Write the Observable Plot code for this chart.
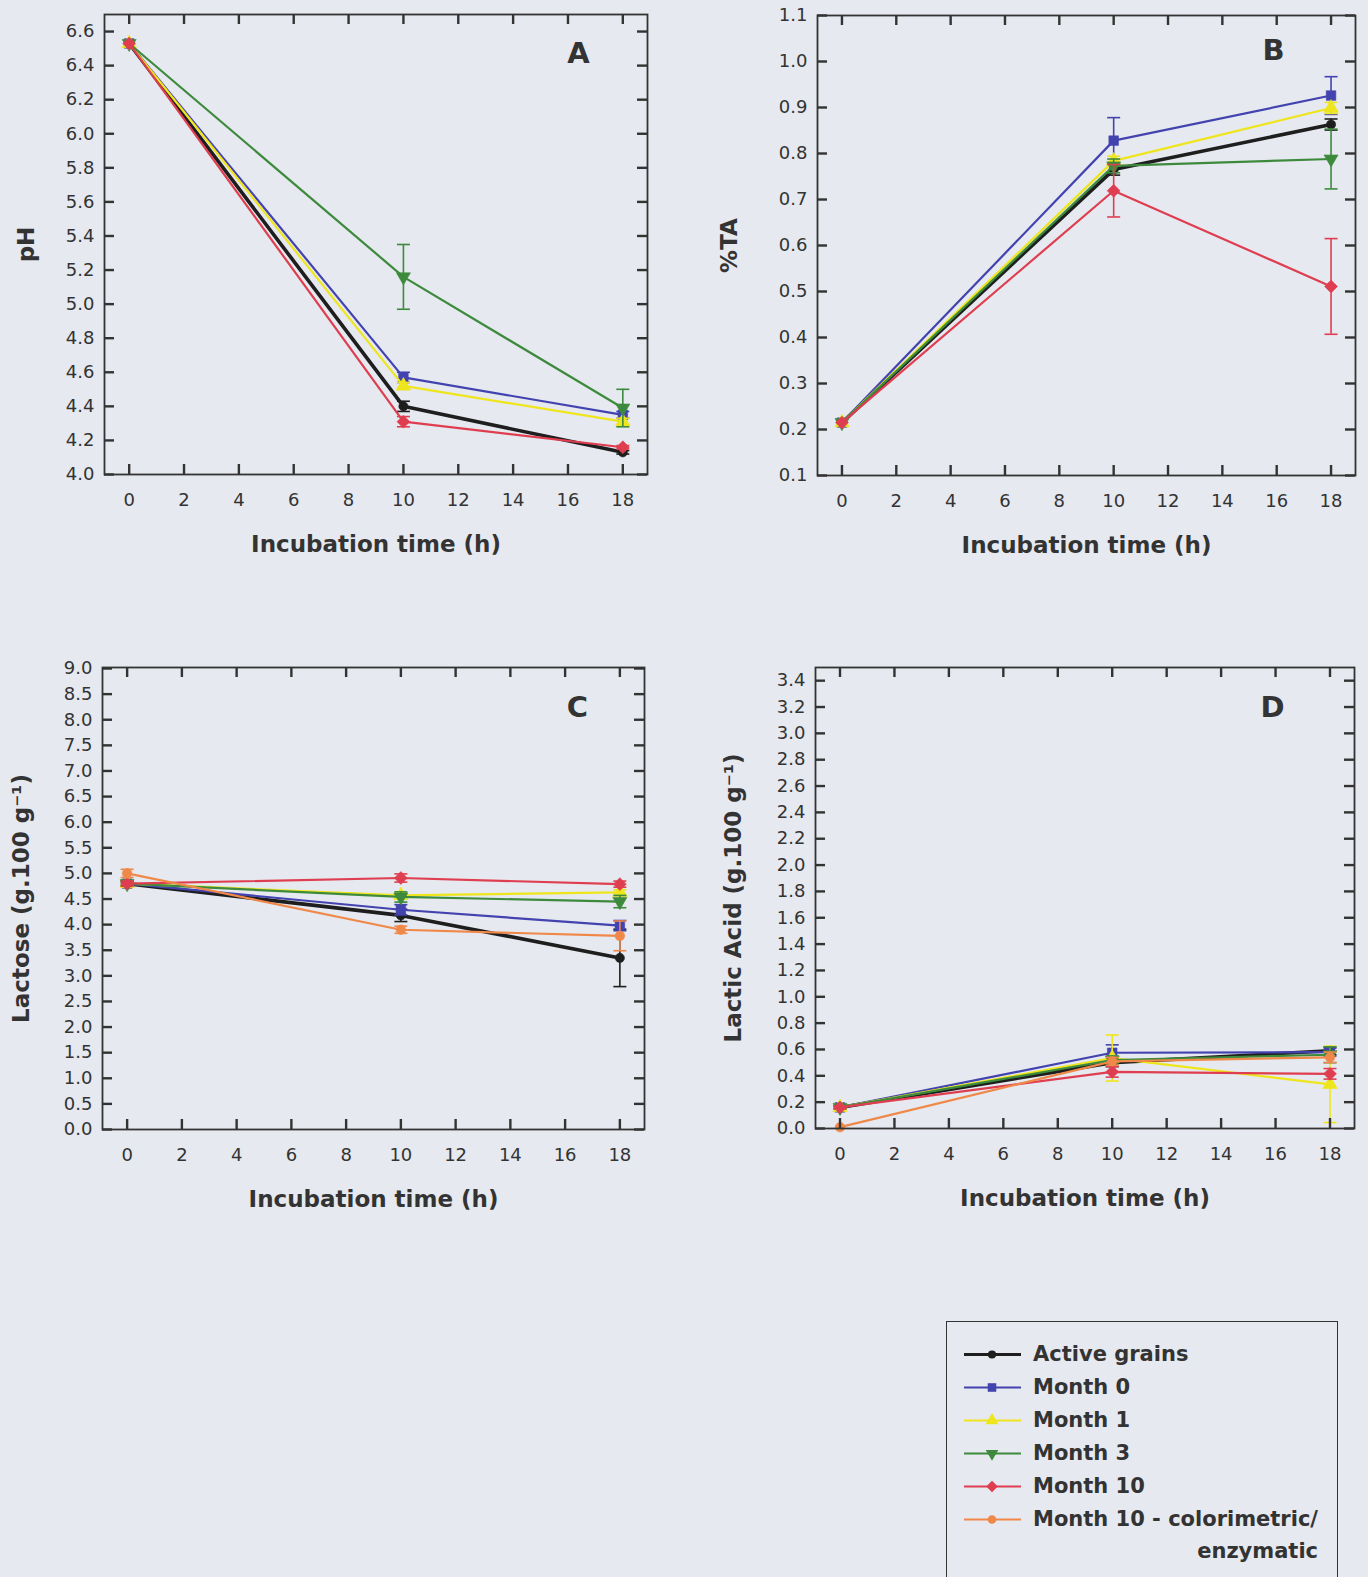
<!DOCTYPE html>
<html><head><meta charset="utf-8">
<script src="https://cdn.jsdelivr.net/npm/d3@7"></script>
<script src="https://cdn.jsdelivr.net/npm/@observablehq/plot@0.6"></script>
<style>
html,body{margin:0;padding:0;}
body{width:1368px;height:1577px;overflow:hidden;background:#e6e9ef;position:relative;font-family:"DejaVu Sans",sans-serif;color:#333;}
.panel{position:absolute;}
#legend{position:absolute;left:946px;top:1321px;width:392px;height:300px;border:1.5px solid #333;box-sizing:border-box;}
.row{position:absolute;font-weight:bold;font-size:21px;line-height:33px;white-space:nowrap;}
.sw{position:absolute;}
</style></head><body>
<div id="A" class="panel"></div>
<div id="B" class="panel"></div>
<div id="C" class="panel"></div>
<div id="D" class="panel"></div>
<div id="legend"></div>
<script>
// ---------- data ----------
const hours = [0, 10, 18];
const xTicks = [0, 2, 4, 6, 8, 10, 12, 14, 16, 18];
const seriesNames = ["Active grains", "Month 0", "Month 1", "Month 3", "Month 10", "Month 10 - colorimetric/enzymatic"];

// A: pH (rows follow seriesNames; null = not measured)
const phMeans = [[6.53, 4.40, 4.13], [6.53, 4.57, 4.35], [6.53, 4.52, 4.31], [6.53, 5.16, 4.39], [6.53, 4.31, 4.16], null];
const phErrs  = [[0, 0.03, 0.01], [0, 0.03, 0.02], [0, 0.02, 0.02], [0, 0.19, 0.11], [0, 0.03, 0.01], null];
const phTicks = [4.0, 4.2, 4.4, 4.6, 4.8, 5.0, 5.2, 5.4, 5.6, 5.8, 6.0, 6.2, 6.4, 6.6];

// B: %TA
const taMeans = [[0.215, 0.765, 0.863], [0.215, 0.828, 0.926], [0.215, 0.784, 0.899], [0.215, 0.773, 0.788], [0.215, 0.719, 0.511], null];
const taErrs  = [[0, 0.012, 0.012], [0, 0.05, 0.041], [0, 0.01, 0.012], [0, 0.015, 0.065], [0, 0.057, 0.104], null];
const taTicks = [0.1, 0.2, 0.3, 0.4, 0.5, 0.6, 0.7, 0.8, 0.9, 1.0, 1.1];

// C: Lactose (g.100 g-1)
const lacMeans = [[4.80, 4.18, 3.35], [4.80, 4.29, 3.98], [4.80, 4.57, 4.63], [4.80, 4.54, 4.45], [4.80, 4.91, 4.79], [5.00, 3.90, 3.78]];
const lacErrs  = [[0.05, 0.12, 0.56], [0.03, 0.10, 0.10], [0.03, 0.05, 0.05], [0.03, 0.10, 0.12], [0.05, 0.08, 0.06], [0.08, 0.07, 0.29]];
const lacTicks = [0.0, 0.5, 1.0, 1.5, 2.0, 2.5, 3.0, 3.5, 4.0, 4.5, 5.0, 5.5, 6.0, 6.5, 7.0, 7.5, 8.0, 8.5, 9.0];

// D: Lactic acid (g.100 g-1)
const laMeans = [[0.16, 0.50, 0.59], [0.16, 0.575, 0.58], [0.16, 0.535, 0.335], [0.16, 0.52, 0.56], [0.16, 0.43, 0.415], [0.01, 0.51, 0.54]];
const laErrs  = [[0.01, 0.03, 0.03], [0.01, 0.06, 0.03], [0.01, 0.175, 0.29], [0.01, 0.03, 0.06], [0.01, 0.04, 0.04], [0, 0.03, 0.04]];
const laTicks = [0.0, 0.2, 0.4, 0.6, 0.8, 1.0, 1.2, 1.4, 1.6, 1.8, 2.0, 2.2, 2.4, 2.6, 2.8, 3.0, 3.2, 3.4];

// ---------- styles ----------
const colors = ["#1e1e1e", "#4343b0", "#efe51c", "#3d8a3d", "#df3e50", "#ef8848"];
const lineWidths = [3.6, 2.2, 2.2, 2.2, 2.2, 2.2];
const sqrt3 = Math.sqrt(3);
const triangleDown = {draw(ctx, size) {
  const y = -Math.sqrt(size / (sqrt3 * 3));
  ctx.moveTo(0, -y * 2); ctx.lineTo(-sqrt3 * y, y); ctx.lineTo(sqrt3 * y, y); ctx.closePath();
}};
const capSymbol = {draw(ctx, size) {
  const r = Math.sqrt(size / Math.PI);
  ctx.moveTo(-r, 0); ctx.lineTo(r, 0);
}};
const symbols = ["circle", "square", "triangle", triangleDown, "diamond2", "circle"];
const d3Symbols = [d3.symbolCircle, d3.symbolSquare, d3.symbolTriangle, triangleDown, d3.symbolDiamond2, d3.symbolCircle];
const symR = [4.6, 5.4, 5.4, 5.2, 5.8, 4.8];
const ink = "#333";
const fmt = d3.format(".1f");

function panel(cfg) {
  const {el, left, top, width, height, ml, mr, mt, mb, yDomain, yTicks, means, errs, yLabel, yLabelDx, letter, letterDx, letterDy} = cfg;
  const fw = width - ml - mr, fh = height - mt - mb;
  const marks = [];
  means.forEach((m, s) => {
    if (!m) return;
    const rows = hours.map((h, i) => ({hour: h, v: m[i], lo: m[i] - errs[s][i], hi: m[i] + errs[s][i], e: errs[s][i]}));
    const withErr = rows.filter(r => r.e > 0);
    marks.push(Plot.line(rows, {x: "hour", y: "v", stroke: colors[s], strokeWidth: lineWidths[s], strokeLinejoin: "round"}));
    marks.push(Plot.ruleX(withErr, {x: "hour", y1: "lo", y2: "hi", stroke: colors[s], strokeWidth: 1.6}));
    marks.push(Plot.dot(withErr, {x: "hour", y: "lo", symbol: capSymbol, r: 6.5, fill: "none", stroke: colors[s], strokeWidth: 1.6}));
    marks.push(Plot.dot(withErr, {x: "hour", y: "hi", symbol: capSymbol, r: 6.5, fill: "none", stroke: colors[s], strokeWidth: 1.6}));
    marks.push(Plot.dot(rows, {x: "hour", y: "v", symbol: symbols[s], r: symR[s], fill: colors[s], stroke: colors[s], strokeWidth: 0.6}));
  });
  // inward ticks on all four sides
  marks.push(Plot.tickX(xTicks, {x: d => d, insetTop: fh - 10, stroke: ink, strokeWidth: 2.4}));
  marks.push(Plot.tickX(xTicks, {x: d => d, insetBottom: fh - 10, stroke: ink, strokeWidth: 2.4}));
  marks.push(Plot.tickY(yTicks, {y: d => d, insetRight: fw - 10, stroke: ink, strokeWidth: 2.4}));
  marks.push(Plot.tickY(yTicks, {y: d => d, insetLeft: fw - 10, stroke: ink, strokeWidth: 2.4}));
  marks.push(Plot.frame({stroke: ink, strokeWidth: 1.8}));
  marks.push(Plot.axisX({ticks: xTicks, tickSize: 0, tickPadding: 19, fontSize: 18, label: null, tickFormat: d => String(d)}));
  marks.push(Plot.axisY({ticks: yTicks, tickSize: 0, tickPadding: 10, fontSize: 18, label: null, tickFormat: fmt}));
  marks.push(Plot.text(["Incubation time (h)"], {frameAnchor: "bottom", text: d => d, dy: 70, fontSize: 23, fontWeight: "bold", textAnchor: "middle", lineAnchor: "middle", fill: ink}));
  marks.push(Plot.text([yLabel], {frameAnchor: "left", text: d => d, rotate: -90, dx: yLabelDx, fontSize: 23, fontWeight: "bold", textAnchor: "middle", lineAnchor: "middle", fill: ink}));
  marks.push(Plot.text([letter], {frameAnchor: "top-right", text: d => d, dx: letterDx, dy: letterDy, fontSize: 29, fontWeight: "bold", textAnchor: "middle", lineAnchor: "top", fill: ink}));

  const chart = Plot.plot({
    width, height, marginLeft: ml, marginRight: mr, marginTop: mt, marginBottom: mb,
    x: {domain: [-0.9, 18.9]},
    y: {domain: yDomain},
    style: {fontFamily: "DejaVu Sans, sans-serif", fontSize: "18px", color: ink, background: "transparent", overflow: "visible"},
    marks
  });
  const div = document.getElementById(el);
  div.style.left = left + "px"; div.style.top = top + "px";
  div.appendChild(chart);
}

panel({el: "A", left: 0, top: 0, width: 680, height: 600, ml: 104, mr: 33, mt: 14, mb: 126,
  yDomain: [4.0, 6.7], yTicks: phTicks, means: phMeans, errs: phErrs, yLabel: "pH", yLabelDx: -78,
  letter: "A", letterDx: -69, letterDy: 28});
panel({el: "B", left: 690, top: 0, width: 678, height: 600, ml: 127, mr: 13, mt: 15, mb: 125,
  yDomain: [0.1, 1.1], yTicks: taTicks, means: taMeans, errs: taErrs, yLabel: "%TA", yLabelDx: -88,
  letter: "B", letterDx: -82, letterDy: 24});
panel({el: "C", left: 0, top: 620, width: 680, height: 620, ml: 102, mr: 36, mt: 47, mb: 111,
  yDomain: [0, 9.02], yTicks: lacTicks, means: lacMeans, errs: lacErrs, yLabel: "Lactose (g.100 g\u207B\u00B9)", yLabelDx: -81,
  letter: "C", letterDx: -67, letterDy: 29});
panel({el: "D", left: 690, top: 620, width: 678, height: 620, ml: 125, mr: 14, mt: 47, mb: 112,
  yDomain: [0, 3.5], yTicks: laTicks, means: laMeans, errs: laErrs, yLabel: "Lactic Acid (g.100 g\u207B\u00B9)", yLabelDx: -82,
  letter: "D", letterDx: -82, letterDy: 29});

// ---------- legend ----------
const legend = document.getElementById("legend");
seriesNames.forEach((name, s) => {
  const top = 16 + s * 33;
  const svg = d3.create("svg").attr("class", "sw").attr("width", 60).attr("height", 33)
    .style("left", "16px").style("top", top + "px");
  svg.append("line").attr("x1", 1).attr("x2", 58).attr("y1", 16.5).attr("y2", 16.5)
    .attr("stroke", colors[s]).attr("stroke-width", s === 0 ? 3 : 2.2);
  svg.append("path").attr("transform", "translate(29,16.5)")
    .attr("d", d3.symbol().type(d3Symbols[s]).size(Math.PI * symR[s] * symR[s] * 0.8)())
    .attr("fill", colors[s]);
  legend.appendChild(svg.node());
  const row = document.createElement("div");
  row.className = "row";
  row.style.left = "86px"; row.style.top = top + "px";
  if (s === 5) {
    row.style.textAlign = "right";
    row.style.lineHeight = "32px";
    row.innerHTML = "Month 10 - colorimetric/<br>enzymatic";
  } else {
    row.textContent = name;
  }
  legend.appendChild(row);
});
</script>
</body></html>
